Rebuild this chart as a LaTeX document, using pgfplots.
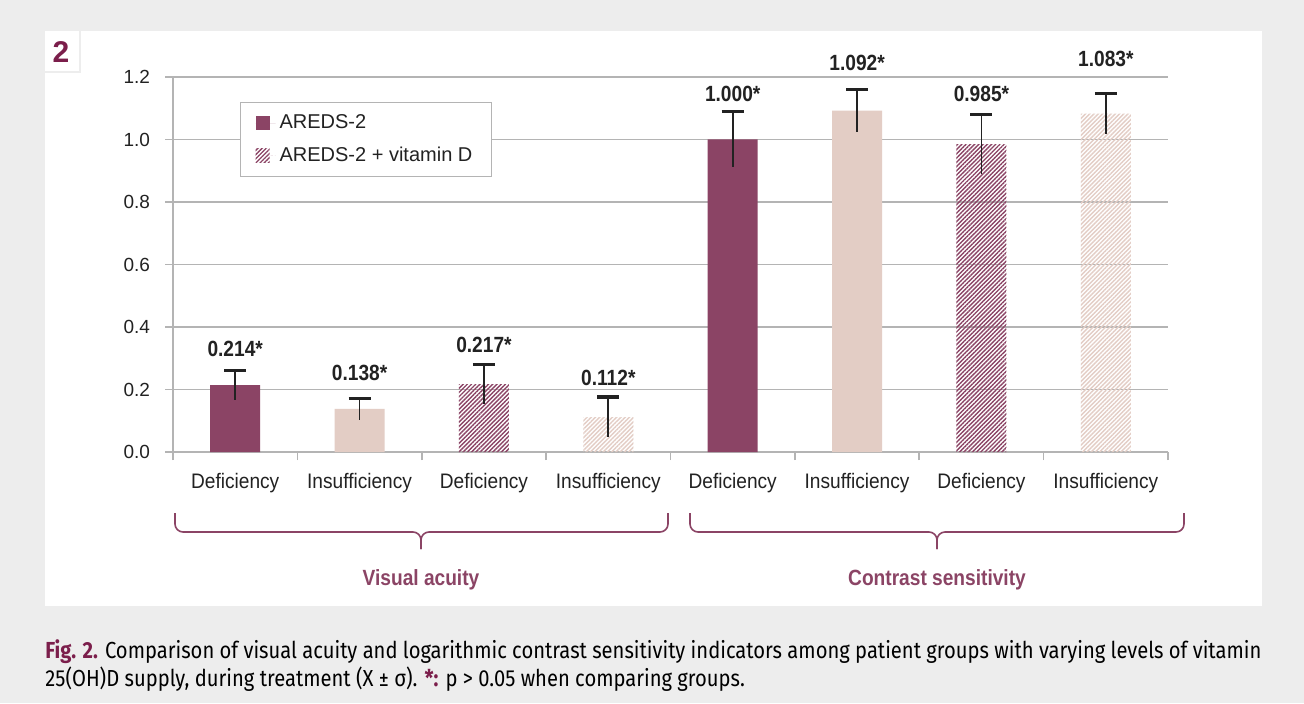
\documentclass[border=0pt]{standalone}
\usepackage{pgfplots}
\pgfplotsset{compat=1.18}
\usepackage{fontspec}
\setmainfont{Liberation Sans}
\newfontfamily\narrow[FakeStretch=0.87]{Liberation Sans}
\newfontfamily\xnarrow[FakeStretch=0.91]{Liberation Sans}
\newfontfamily\capfont{Fira Sans}
\usetikzlibrary{patterns.meta}

\definecolor{dark}{HTML}{8B4465}
\definecolor{light}{HTML}{E3CDC5}
\definecolor{maroon}{HTML}{7B1E4B}
\definecolor{gridc}{HTML}{B4B4B4}
\definecolor{bgc}{HTML}{EDEDED}
\definecolor{txt}{HTML}{222222}
\definecolor{captxt}{HTML}{333333}

\newsavebox\capone
\newsavebox\captwo

\begin{document}
\sbox\capone{\capfont\fontsize{11.6}{14}\selectfont\textcolor{maroon}{\bfseries Fig. 2.} Comparison of visual acuity and logarithmic contrast sensitivity indicators among patient groups with varying levels of vitamin}%
\sbox\captwo{\capfont\fontsize{11.6}{14}\selectfont 25(OH)D supply, during treatment (X ± σ). \textcolor{maroon}{\bfseries *:} p > 0.05 when comparing groups.}%
\pgfmathsetmacro\sx{608/(\the\wd\capone)}%
\begin{tikzpicture}
\fill[bgc] (0,0) rectangle (652pt,351.5pt);
\begin{scope}[x=0.5pt,y=-0.5pt,yshift=351.5pt]
  \fill[white] (45,31) rectangle (1262,606);
  \draw[bgc, line width=1.2pt] (80,31) -- (80,72) -- (45,72);
  \node[font=\bfseries\fontsize{15}{15}\selectfont, text=maroon] at (61,52) {2};
  % braces
  \draw[dark, line width=0.8pt, rounded corners=4pt] (175,513) -- (175,532) -- (421,532) -- (421,549);
  \draw[dark, line width=0.8pt, rounded corners=4pt] (668,513) -- (668,532) -- (421,532) -- (421,549);
  \draw[dark, line width=0.8pt, rounded corners=4pt] (690,513) -- (690,532) -- (937,532) -- (937,549);
  \draw[dark, line width=0.8pt, rounded corners=4pt] (1184,513) -- (1184,532) -- (937,532) -- (937,549);
  \node[font=\narrow\bfseries\fontsize{11}{12}\selectfont, text=dark] at (421,580) {Visual acuity};
  \node[font=\narrow\bfseries\fontsize{11}{12}\selectfont, text=dark] at (937,580) {Contrast sensitivity};
  \node[anchor=base west, inner sep=0pt, text=captxt] at (45,658) {\scalebox{\sx}[1]{\usebox\capone}};
  \node[anchor=base west, inner sep=0pt, text=captxt] at (45,686) {\scalebox{\sx}[1]{\usebox\captwo}};
\end{scope}
\begin{axis}[
  at={(86.5pt,125.5pt)}, anchor=south west,
  width=497.5pt, height=187.5pt, scale only axis,
  xmin=-0.5, xmax=7.5, ymin=0, ymax=1.2,
  enlargelimits=false, clip=false,
  axis x line*=bottom, axis y line*=left,
  axis line style={gridc, line width=0.8pt},
  ymajorgrids, grid style={gridc, line width=0.7pt},
  ytick={0,0.2,0.4,0.6,0.8,1.0,1.2},
  yticklabel style={/pgf/number format/.cd, fixed, fixed zerofill, precision=1, assume math mode=true, /tikz/.cd, font=\fontsize{9.5}{11}\selectfont, text=txt, xshift=-4pt},
  xtick={0,1,2,3,4,5,6,7},
  xticklabels={Deficiency, Insufficiency, Deficiency, Insufficiency, Deficiency, Insufficiency, Deficiency, Insufficiency},
  xticklabel style={font=\xnarrow\fontsize{10.5}{12}\selectfont, text=txt, yshift=-3pt},
  minor xtick={-0.5,0.5,1.5,2.5,3.5,4.5,5.5,6.5,7.5},
  tick align=outside,
  major x tick style={draw=none},
  minor tick length=4pt, major tick length=4pt,
  tick style={gridc, line width=0.8pt},
  legend style={at={(rel axis cs:0.0673,0.933)}, anchor=north west, draw=gridc, line width=0.6pt, fill=white,
    font=\fontsize{10}{12}\selectfont, text=txt, inner xsep=7.5pt, inner ysep=4pt, row sep=3.5pt},
  legend cell align=left,
  legend image code/.code={\draw[#1, draw=none] (0pt,-3.5pt) rectangle (7pt,3.5pt); \path (0pt,0pt) -- (10pt,0pt);},
]
\addplot[ybar, bar width=25pt, bar shift=0pt, fill=dark, draw=none] coordinates {(0,0.214) (4,1.000)};
\addlegendentry{AREDS-2}
\addplot[ybar, bar width=25pt, bar shift=0pt, fill=light, draw=none, forget plot] coordinates {(1,0.138) (5,1.092)};
\addplot[ybar, bar width=25pt, bar shift=0pt, draw=none, pattern={Lines[angle=45,distance=1.5pt,line width=0.7pt]}, pattern color=dark] coordinates {(2,0.217) (6,0.985)};
\addlegendentry{AREDS-2 + vitamin D}
\addplot[ybar, bar width=25pt, bar shift=0pt, draw=none, pattern={Lines[angle=45,distance=1.5pt,line width=0.7pt]}, pattern color=light, forget plot] coordinates {(3,0.112) (7,1.083)};
% error bars: upper part with cap
\addplot[draw=none, mark=none, forget plot, error bars/.cd, y dir=plus, y explicit, error mark=|,
  error bar style={txt, line width=0.9pt, solid}, error mark options={txt, line width=1.6pt, mark size=5.5pt}]
  coordinates {(0,0.214) +- (0,0.048) (1,0.138) +- (0,0.034) (2,0.217) +- (0,0.064) (3,0.112) +- (0,0.064)
               (4,1.000) +- (0,0.089) (5,1.092) +- (0,0.067) (6,0.985) +- (0,0.094) (7,1.083) +- (0,0.064)};
% error bars: lower part without cap
\addplot[draw=none, mark=none, forget plot, error bars/.cd, y dir=minus, y explicit, error mark=none,
  error bar style={txt, line width=0.9pt, solid}]
  coordinates {(0,0.214) +- (0,0.048) (1,0.138) +- (0,0.034) (2,0.217) +- (0,0.064) (3,0.112) +- (0,0.064)
               (4,1.000) +- (0,0.089) (5,1.092) +- (0,0.067) (6,0.985) +- (0,0.094) (7,1.083) +- (0,0.064)};
% value labels
\addplot[draw=none, mark=none, forget plot, nodes near coords, point meta=explicit symbolic,
  nodes near coords align={anchor=base},
  nodes near coords style={font=\narrow\bfseries\fontsize{11}{12}\selectfont, text=txt, inner sep=0pt}]
  coordinates {(0,0.307) [0.214*] (1,0.230) [0.138*] (2,0.320) [0.217*] (3,0.214) [0.112*]
               (4,1.120) [1.000*] (5,1.222) [1.092*] (6,1.120) [0.985*] (7,1.232) [1.083*]};
\end{axis}
\end{tikzpicture}
\end{document}
